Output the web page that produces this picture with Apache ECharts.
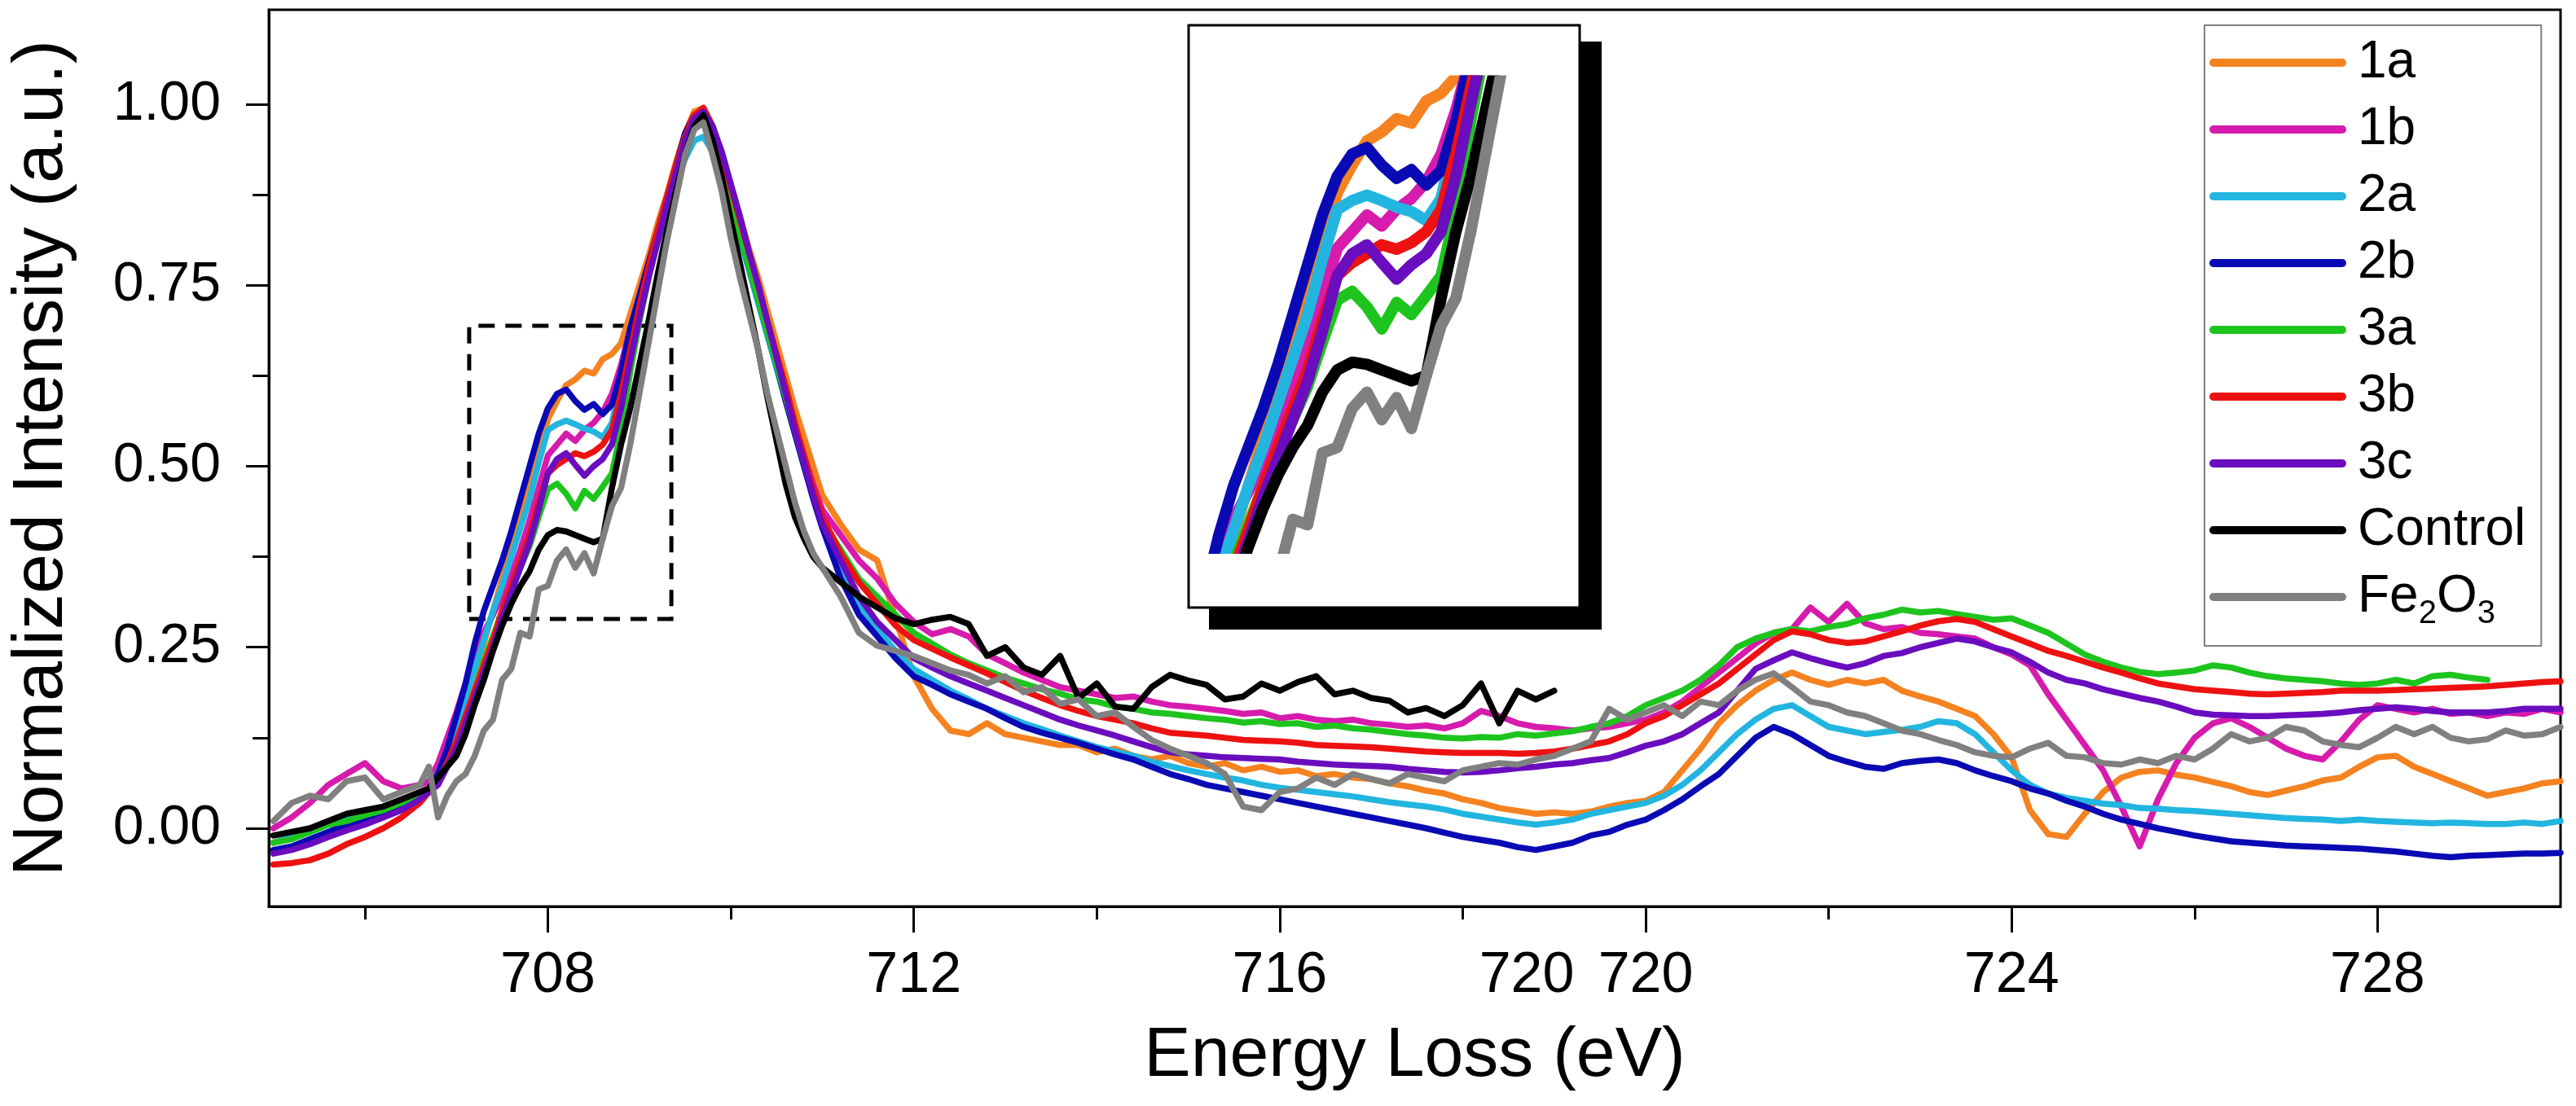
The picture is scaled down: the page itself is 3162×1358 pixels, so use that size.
<!DOCTYPE html>
<html><head><meta charset="utf-8">
<script src="https://cdn.jsdelivr.net/npm/echarts@6/dist/echarts.min.js"></script>
<style>html,body{margin:0;padding:0;background:#fff}#c{width:3162px;height:1358px}</style>
</head><body><div id="c"></div>
<script>
// Energy grid (eV)
const energy = [
705.0,705.2,705.4,705.6,705.8,706.0,706.2,706.4,706.6,
706.7,706.8,706.9,707.0,707.1,707.2,707.3,707.4,707.5,707.6,707.7,707.8,707.9,708.0,708.1,708.2,708.3,708.4,708.5,708.6,708.7,708.8,708.9,709.0,709.1,709.2,709.3,709.4,709.5,709.6,709.7,709.8,709.9,710.0,710.1,710.2,710.3,710.4,710.5,710.6,710.7,710.8,710.9,711.0,
711.2,711.4,711.6,711.8,712.0,712.2,712.4,712.6,712.8,713.0,
713.2,713.4,713.6,713.8,714.0,714.2,714.4,714.6,714.8,715.0,
715.2,715.4,715.6,715.8,716.0,716.2,716.4,716.6,716.8,717.0,
717.2,717.4,717.6,717.8,718.0,718.2,718.4,718.6,718.8,719.0,
719.2,719.4,719.6,719.8,720.0,720.2,720.4,720.6,720.8,721.0,
721.2,721.4,721.6,721.8,722.0,722.2,722.4,722.6,722.8,723.0,
723.2,723.4,723.6,723.8,724.0,724.2,724.4,724.6,724.8,725.0,
725.2,725.4,725.6,725.8,726.0,726.2,726.4,726.6,726.8,727.0,
727.2,727.4,727.6,727.8,728.0,728.2,728.4,728.6,728.8,729.0,
729.2,729.4,729.6,729.8,730.0];

const s1a = [
-0.02,-0.01,-0.002,0.008,0.015,0.02,0.028,0.035,0.045,
0.055,0.07,0.1,0.13,0.17,0.21,0.255,0.3,0.345,0.385,0.43,0.47,0.52,0.565,0.59,0.612,0.62,0.632,0.628,0.648,0.655,0.67,0.71,0.75,0.79,0.835,0.875,0.92,0.96,0.99,0.995,0.97,0.93,0.885,0.845,0.8,0.76,0.715,0.67,0.625,0.58,0.54,0.5,0.46,
0.42,0.385,0.37,0.29,0.21,0.165,0.135,0.13,0.145,0.13,
0.125,0.12,0.115,0.115,0.105,0.11,0.1,0.095,0.1,0.09,
0.085,0.09,0.08,0.085,0.078,0.08,0.072,0.075,0.07,0.068,
0.062,0.058,0.052,0.048,0.04,0.035,0.028,0.024,0.02,0.022,
0.02,0.023,0.03,0.035,0.038,0.05,0.08,0.11,0.145,0.17,
0.19,0.205,0.215,0.205,0.198,0.205,0.2,0.205,0.19,0.182,
0.175,0.165,0.155,0.13,0.098,0.025,-0.008,-0.012,0.02,0.05,
0.07,0.078,0.08,0.074,0.07,0.064,0.058,0.05,0.046,0.052,
0.058,0.066,0.07,0.085,0.098,0.1,0.085,0.075,0.065,0.055,
0.045,0.05,0.055,0.062,0.065];

const s1b = [
0.0,0.015,0.035,0.06,0.075,0.09,0.065,0.055,0.06,
0.065,0.09,0.125,0.16,0.2,0.235,0.27,0.295,0.32,0.35,0.385,0.425,0.47,0.515,0.53,0.545,0.535,0.55,0.56,0.575,0.6,0.64,0.69,0.735,0.78,0.825,0.87,0.915,0.955,0.985,0.99,0.965,0.92,0.875,0.825,0.78,0.735,0.69,0.645,0.6,0.555,0.515,0.475,0.44,
0.405,0.37,0.345,0.31,0.285,0.268,0.275,0.265,0.24,0.228,
0.215,0.205,0.195,0.19,0.185,0.18,0.182,0.175,0.17,0.168,
0.165,0.162,0.158,0.16,0.152,0.155,0.15,0.148,0.15,0.145,
0.143,0.14,0.142,0.138,0.145,0.162,0.155,0.145,0.14,0.138,
0.135,0.138,0.14,0.145,0.15,0.16,0.175,0.195,0.215,0.235,
0.255,0.27,0.275,0.305,0.285,0.31,0.283,0.275,0.278,0.27,
0.268,0.265,0.262,0.25,0.24,0.225,0.185,0.15,0.115,0.08,
0.03,-0.025,0.04,0.09,0.125,0.145,0.152,0.14,0.125,0.11,
0.1,0.095,0.12,0.15,0.17,0.165,0.16,0.165,0.158,0.16,
0.155,0.16,0.158,0.165,0.16];

const s2a = [
-0.02,-0.012,-0.005,0.005,0.012,0.018,0.025,0.035,0.045,
0.055,0.075,0.105,0.14,0.18,0.22,0.26,0.3,0.335,0.375,0.415,0.455,0.505,0.55,0.558,0.563,0.558,0.552,0.548,0.54,0.56,0.62,0.68,0.725,0.77,0.81,0.85,0.89,0.925,0.95,0.955,0.935,0.9,0.86,0.815,0.77,0.725,0.68,0.635,0.59,0.545,0.5,0.46,0.42,
0.36,0.31,0.275,0.245,0.22,0.205,0.19,0.178,0.165,0.155,
0.145,0.137,0.128,0.12,0.112,0.106,0.1,0.092,0.086,0.08,
0.075,0.07,0.066,0.06,0.056,0.053,0.05,0.047,0.044,0.04,
0.036,0.033,0.03,0.026,0.02,0.016,0.012,0.008,0.005,0.008,
0.012,0.02,0.025,0.03,0.035,0.045,0.06,0.08,0.105,0.13,
0.15,0.165,0.17,0.155,0.14,0.135,0.13,0.133,0.136,0.14,
0.148,0.145,0.13,0.105,0.08,0.06,0.048,0.042,0.038,0.034,
0.032,0.028,0.027,0.025,0.024,0.022,0.02,0.018,0.016,0.014,
0.013,0.012,0.01,0.012,0.01,0.009,0.008,0.007,0.008,0.007,
0.006,0.006,0.008,0.006,0.01];

const s2b = [
-0.03,-0.025,-0.015,-0.005,0.005,0.012,0.02,0.03,0.045,
0.055,0.075,0.11,0.155,0.2,0.255,0.3,0.335,0.37,0.41,0.455,0.5,0.545,0.58,0.6,0.606,0.59,0.578,0.586,0.572,0.585,0.63,0.69,0.735,0.78,0.825,0.87,0.915,0.96,0.985,0.975,0.945,0.905,0.865,0.82,0.775,0.73,0.685,0.64,0.59,0.545,0.5,0.455,0.415,
0.345,0.295,0.265,0.235,0.21,0.198,0.185,0.175,0.165,0.152,
0.14,0.132,0.125,0.118,0.11,0.102,0.095,0.085,0.075,0.068,
0.06,0.055,0.05,0.045,0.04,0.035,0.03,0.025,0.02,0.015,
0.01,0.005,0.0,-0.006,-0.012,-0.016,-0.02,-0.026,-0.03,-0.025,
-0.02,-0.01,-0.005,0.005,0.012,0.025,0.04,0.058,0.075,0.1,
0.125,0.14,0.13,0.115,0.1,0.092,0.085,0.082,0.09,0.093,
0.095,0.09,0.08,0.072,0.065,0.055,0.048,0.038,0.03,0.02,
0.012,0.006,0.0,-0.005,-0.01,-0.014,-0.018,-0.02,-0.022,-0.024,
-0.025,-0.026,-0.027,-0.028,-0.03,-0.032,-0.035,-0.038,-0.04,-0.038,
-0.037,-0.036,-0.035,-0.035,-0.034];

const s3a = [
-0.02,-0.015,-0.005,0.005,0.01,0.018,0.025,0.035,0.045,
0.05,0.065,0.09,0.115,0.15,0.19,0.23,0.265,0.3,0.33,0.36,0.39,0.43,0.468,0.476,0.462,0.442,0.466,0.455,0.472,0.49,0.55,0.63,0.7,0.76,0.81,0.86,0.905,0.95,0.98,0.985,0.955,0.915,0.87,0.82,0.775,0.73,0.685,0.64,0.595,0.55,0.505,0.465,0.425,
0.385,0.345,0.32,0.295,0.27,0.255,0.24,0.228,0.218,0.208,
0.2,0.192,0.186,0.178,0.175,0.168,0.165,0.16,0.158,0.155,
0.152,0.15,0.146,0.148,0.144,0.145,0.14,0.142,0.138,0.136,
0.133,0.13,0.128,0.125,0.124,0.126,0.125,0.13,0.128,0.131,
0.134,0.14,0.145,0.155,0.17,0.18,0.19,0.205,0.225,0.25,
0.262,0.27,0.275,0.272,0.278,0.282,0.29,0.295,0.302,0.298,
0.3,0.296,0.292,0.288,0.29,0.28,0.27,0.255,0.24,0.23,
0.222,0.216,0.213,0.215,0.218,0.225,0.222,0.215,0.21,0.207,
0.205,0.203,0.2,0.198,0.2,0.205,0.2,0.21,0.212,0.208,
0.205,null,null,null,null];

const s3b = [
-0.05,-0.048,-0.044,-0.035,-0.022,-0.012,0.0,0.015,0.035,
0.05,0.065,0.09,0.12,0.155,0.19,0.225,0.26,0.3,0.335,0.37,0.405,0.45,0.49,0.502,0.51,0.518,0.514,0.52,0.53,0.55,0.6,0.66,0.72,0.775,0.825,0.87,0.915,0.955,0.985,0.995,0.97,0.93,0.885,0.84,0.795,0.75,0.7,0.655,0.61,0.56,0.515,0.47,0.43,
0.38,0.34,0.31,0.28,0.26,0.248,0.236,0.225,0.214,0.202,
0.19,0.18,0.17,0.162,0.155,0.15,0.145,0.138,0.132,0.13,
0.128,0.125,0.122,0.121,0.12,0.118,0.115,0.114,0.113,0.112,
0.11,0.108,0.106,0.105,0.104,0.104,0.104,0.103,0.104,0.106,
0.11,0.115,0.12,0.13,0.145,0.155,0.17,0.185,0.2,0.22,
0.24,0.26,0.272,0.268,0.26,0.256,0.258,0.265,0.272,0.28,
0.286,0.289,0.285,0.275,0.265,0.255,0.245,0.238,0.23,0.222,
0.215,0.207,0.2,0.196,0.192,0.19,0.188,0.186,0.185,0.186,
0.187,0.188,0.19,0.19,0.19,0.191,0.192,0.193,0.194,0.195,
0.196,0.198,0.2,0.202,0.203];

const s3c = [
-0.035,-0.03,-0.022,-0.012,-0.003,0.005,0.015,0.025,0.04,
0.05,0.06,0.085,0.11,0.145,0.18,0.215,0.25,0.29,0.325,0.36,0.395,0.44,0.49,0.51,0.518,0.502,0.487,0.5,0.51,0.53,0.58,0.645,0.705,0.76,0.81,0.86,0.905,0.95,0.98,0.99,0.97,0.935,0.89,0.845,0.795,0.75,0.7,0.65,0.6,0.55,0.505,0.46,0.42,
0.37,0.32,0.285,0.26,0.235,0.222,0.21,0.2,0.19,0.18,
0.17,0.16,0.15,0.142,0.135,0.128,0.12,0.112,0.105,0.102,
0.1,0.098,0.097,0.096,0.095,0.092,0.09,0.088,0.087,0.086,
0.085,0.082,0.08,0.078,0.077,0.078,0.08,0.083,0.085,0.088,
0.09,0.094,0.097,0.105,0.114,0.12,0.13,0.145,0.16,0.19,
0.22,0.232,0.243,0.235,0.228,0.222,0.228,0.238,0.242,0.25,
0.256,0.262,0.258,0.25,0.243,0.23,0.215,0.205,0.2,0.192,
0.186,0.18,0.175,0.168,0.16,0.157,0.156,0.155,0.155,0.156,
0.157,0.158,0.16,0.163,0.165,0.167,0.165,0.162,0.16,0.16,
0.16,0.162,0.165,0.165,0.165];

const sControl = [
-0.01,-0.005,0.0,0.01,0.02,0.025,0.03,0.04,0.05,
0.055,0.07,0.085,0.1,0.13,0.17,0.205,0.245,0.28,0.31,0.335,0.355,0.385,0.405,0.412,0.41,0.405,0.4,0.395,0.4,0.47,0.53,0.58,0.64,0.7,0.765,0.825,0.88,0.93,0.97,0.985,0.95,0.9,0.84,0.78,0.72,0.66,0.595,0.535,0.475,0.43,0.4,0.375,0.36,
0.34,0.32,0.305,0.29,0.282,0.288,0.292,0.282,0.238,0.25,
0.222,0.212,0.238,0.18,0.2,0.168,0.165,0.195,0.212,0.204,
0.198,0.178,0.182,0.2,0.19,0.202,0.21,0.185,0.19,0.18,
0.176,0.16,0.166,0.155,0.17,0.2,0.145,0.19,0.178,0.19,
null,null,null,null,null,null,null,null,null,null,
null,null,null,null,null,null,null,null,null,null,
null,null,null,null,null,null,null,null,null,null,
null,null,null,null,null,null,null,null,null,null,
null,null,null,null,null,null,null,null,null,null,
null,null,null,null,null];

const sFe2O3 = [
0.01,0.035,0.045,0.04,0.065,0.07,0.04,0.05,0.06,
0.085,0.015,0.045,0.065,0.075,0.1,0.135,0.15,0.205,0.22,0.27,0.265,0.33,0.335,0.37,0.385,0.36,0.38,0.352,0.4,0.445,0.47,0.53,0.6,0.67,0.74,0.81,0.87,0.93,0.965,0.975,0.93,0.88,0.815,0.76,0.71,0.66,0.6,0.55,0.5,0.45,0.41,0.38,0.36,
0.32,0.27,0.252,0.245,0.238,0.228,0.218,0.212,0.2,0.21,
0.188,0.195,0.172,0.178,0.155,0.16,0.14,0.122,0.11,0.1,
0.09,0.075,0.03,0.025,0.05,0.055,0.07,0.06,0.075,0.068,
0.062,0.075,0.07,0.065,0.08,0.085,0.09,0.088,0.095,0.1,
0.11,0.12,0.165,0.15,0.16,0.17,0.155,0.175,0.17,0.19,
0.205,0.214,0.195,0.175,0.17,0.16,0.155,0.145,0.135,0.13,
0.122,0.115,0.105,0.1,0.098,0.11,0.118,0.1,0.098,0.09,
0.088,0.095,0.09,0.1,0.095,0.11,0.13,0.12,0.125,0.14,
0.135,0.12,0.115,0.112,0.125,0.14,0.13,0.14,0.125,0.12,
0.123,0.135,0.128,0.13,0.14];

const seriesNames = ['1a','1b','2a','2b','3a','3b','3c','Control','Fe2O3'];
const seriesValues = [s1a,s1b,s2a,s2b,s3a,s3b,s3c,sControl,sFe2O3];
const seriesColors = ['#F58220','#D61BAD','#22B5E0','#0A0AB4','#1EC41E','#EE1111','#6A0DBF','#000000','#808080'];

const xMajorTicks = [708,712,716,720,724,728];
const xMinorTicks = [706,710,714,718,722,726];
const xLabelValues = [708,712,716,718.7,720,724,728];
const xLabelTexts = ['708','712','716','720','720','724','728'];
const yMajorTicks = [0,0.25,0.5,0.75,1];
const yMinorTicks = [0.125,0.375,0.625,0.875];
const yLabelTexts = ['0.00','0.25','0.50','0.75','1.00'];
const zoomBox = [[707.14,0.289],[709.35,0.694]];

const FONT = 'Liberation Sans, Arial, Helvetica, sans-serif';

function pairs(vals){
  const out = [];
  for (let i = 0; i < energy.length; i++) if (vals[i] !== null) out.push([energy[i], vals[i]]);
  return out;
}
function lookup(values, texts, v){
  for (let i = 0; i < values.length; i++) if (Math.abs(values[i]-v) < 1e-6) return texts[i];
  return '';
}

const series = [];
seriesNames.forEach((n,i) => {
  const s = {
    name: n, type: 'line', xAxisIndex: 0, yAxisIndex: 0,
    data: pairs(seriesValues[i]), symbol: 'none', showSymbol: false,
    lineStyle: {width: 7.5, color: seriesColors[i], join: 'round', cap: 'round'},
    itemStyle: {color: seriesColors[i]},
    z: 2, clip: true, animation: false, emphasis: {disabled: true}
  };
  if (i === seriesNames.length - 1) {
    s.markArea = {
      silent: true,
      itemStyle: {color: 'rgba(0,0,0,0)', borderColor: '#000', borderWidth: 5, borderType: [20,13]},
      data: [[{coord: zoomBox[0]}, {coord: zoomBox[1]}]]
    };
  }
  series.push(s);
});
seriesNames.forEach((n,i) => {
  series.push({
    name: 'inset ' + n, type: 'line', xAxisIndex: 2, yAxisIndex: 2,
    data: pairs(seriesValues[i]), symbol: 'none', showSymbol: false,
    lineStyle: {width: 14, color: seriesColors[i], join: 'round'},
    itemStyle: {color: seriesColors[i]},
    z: 10, clip: true, animation: false, emphasis: {disabled: true}
  });
});

const chart = echarts.init(document.getElementById('c'), null, {renderer: 'canvas'});
chart.setOption({
  animation: false,
  backgroundColor: '#fff',
  textStyle: {fontFamily: FONT, color: '#000'},
  grid: [
    {left: 329, right: 19, top: 12, bottom: 245, show: true, borderColor: '#000', borderWidth: 3, backgroundColor: 'rgba(0,0,0,0)', containLabel: false},
    {left: 1470, top: 99.5, width: 430, height: 573.5, show: false}
  ],
  xAxis: [
    {gridIndex: 0, type: 'value', min: 704.95, max: 730, position: 'bottom',
     axisLine: {show: true, onZero: false, lineStyle: {color: '#000', width: 3}},
     axisTick: {show: true, customValues: xMajorTicks, length: 32, inside: false, lineStyle: {color: '#000', width: 3}},
     axisLabel: {show: true, customValues: xLabelValues, formatter: v => lookup(xLabelValues, xLabelTexts, v), fontSize: 70, color: '#000', margin: 51, fontFamily: FONT},
     splitLine: {show: false},
     name: 'Energy Loss (eV)', nameLocation: 'middle', nameGap: 141,
     nameTextStyle: {fontSize: 86, color: '#000', fontFamily: FONT}},
    {gridIndex: 0, type: 'value', min: 704.95, max: 730, position: 'bottom',
     axisLine: {show: false, onZero: false},
     axisTick: {show: true, customValues: xMinorTicks, length: 16, inside: false, lineStyle: {color: '#000', width: 3}},
     axisLabel: {show: false}, splitLine: {show: false}},
    {gridIndex: 1, type: 'value', min: 707.058, max: 709.42, show: false}
  ],
  yAxis: [
    {gridIndex: 0, type: 'value', min: -0.108, max: 1.1305, position: 'left',
     axisLine: {show: true, onZero: false, lineStyle: {color: '#000', width: 3}},
     axisTick: {show: true, customValues: yMajorTicks, length: 28, inside: false, lineStyle: {color: '#000', width: 3}},
     axisLabel: {show: true, customValues: yMajorTicks, formatter: v => lookup(yMajorTicks, yLabelTexts, v), fontSize: 68, color: '#000', margin: 59, fontFamily: FONT},
     splitLine: {show: false},
     name: 'Normalized Intensity (a.u.)', nameLocation: 'middle', nameRotate: 90, nameGap: 234,
     nameTextStyle: {fontSize: 88, color: '#000', fontFamily: FONT}},
    {gridIndex: 0, type: 'value', min: -0.108, max: 1.1305, position: 'left',
     axisLine: {show: false, onZero: false},
     axisTick: {show: true, customValues: yMinorTicks, length: 20, inside: false, lineStyle: {color: '#000', width: 3}},
     axisLabel: {show: false}, splitLine: {show: false}},
    {gridIndex: 1, type: 'value', min: 0.244, max: 0.666, show: false}
  ],
  legend: {
    show: true, orient: 'vertical', left: 2706, top: 31,
    data: seriesNames, selectedMode: false,
    itemWidth: 158, itemHeight: 14, itemGap: 0,
    padding: [5, 19, 19, 6],
    borderColor: '#808080', borderWidth: 2, backgroundColor: '#fff',
    itemStyle: {opacity: 0},
    lineStyle: {width: 10, cap: 'round'},
    formatter: n => n === 'Fe2O3' ? 'Fe{sub|2}O{sub|3}' : n,
    textStyle: {fontSize: 64, lineHeight: 82, color: '#000', fontFamily: FONT, padding: [0,0,0,14],
      rich: {sub: {fontSize: 40, lineHeight: 26, verticalAlign: 'bottom', color: '#000', fontFamily: FONT}}}
  },
  graphic: [
    {type: 'rect', z: 5, silent: true, shape: {x: 1484, y: 51, width: 482, height: 722}, style: {fill: '#000'}},
    {type: 'rect', z: 6, silent: true, shape: {x: 1459, y: 31, width: 480, height: 715}, style: {fill: '#fff', stroke: '#000', lineWidth: 3}}
  ],
  series: series
});
</script></body></html>
